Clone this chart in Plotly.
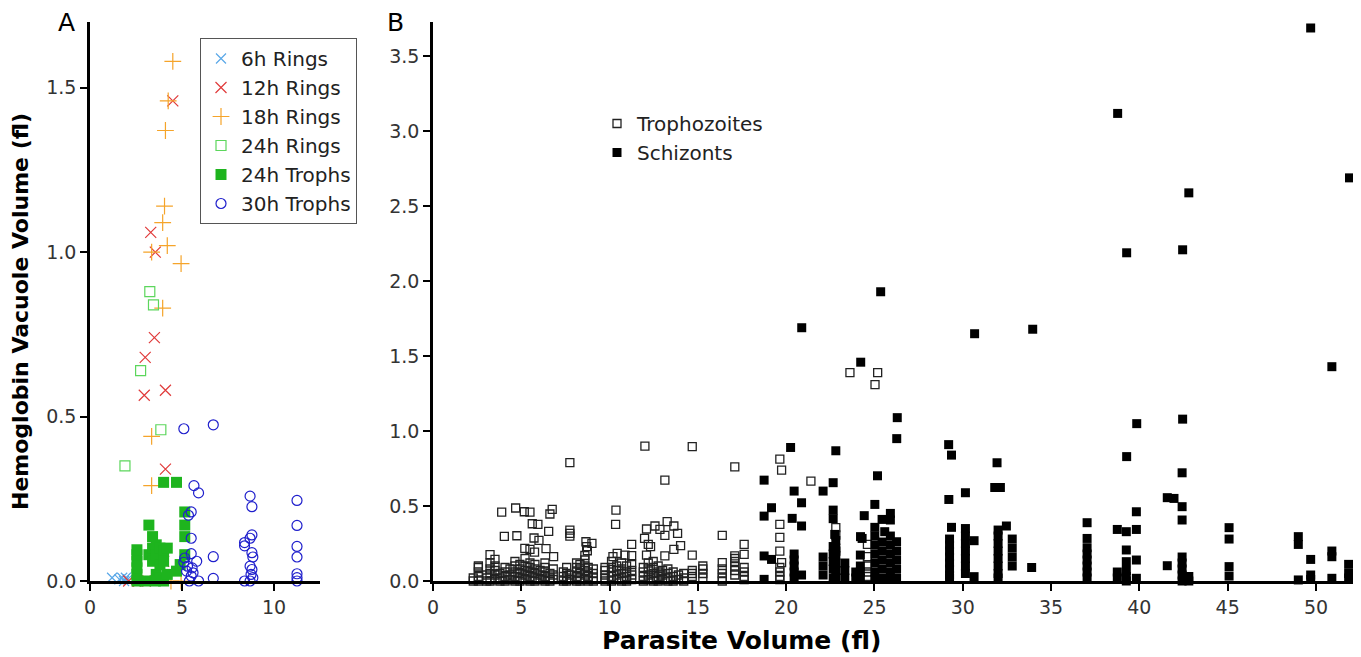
import plotly.graph_objects as go

# ---- panel A data (parasite volume fl, vacuole volume fl)
ring6_x = [1.2, 1.6, 1.75, 1.85, 1.95, 2.05]
ring6_y = [0.01, 0.005, 0.01, 0.0, 0.01, 0.005]

ring12_x = [4.5, 3.3, 3.55, 3.5, 3.0, 2.95, 4.1, 4.1, 2.1, 2.6, 3.0, 4.0]
ring12_y = [1.46, 1.06, 1.0, 0.74, 0.68, 0.565, 0.58, 0.34, 0.0, 0.0, 0.0, 0.06]

ring18_x = [4.5, 4.25, 4.1, 4.05, 3.95, 4.2, 3.35, 4.95, 3.95, 3.35, 3.35, 4.95, 4.4]
ring18_y = [1.58, 1.46, 1.37, 1.14, 1.09, 1.02, 1.0, 0.965, 0.83, 0.44, 0.29, 0.0, 0.0]

ring24_x = [3.25, 3.45, 2.75, 3.85, 1.9]
ring24_y = [0.88, 0.84, 0.64, 0.46, 0.35]

troph24_x = [2.55, 2.55, 2.55, 2.55, 2.55, 2.55, 3.2, 3.2, 3.4, 3.4, 3.4, 3.6, 3.6, 3.6,
             3.8, 3.8, 3.8, 4.0, 4.0, 4.0, 4.0, 4.2, 4.2, 4.7, 4.7, 4.9, 5.15, 5.15, 5.15,
             5.15, 3.0, 3.55]
troph24_y = [0.0, 0.02, 0.04, 0.06, 0.08, 0.095, 0.17, 0.08, 0.135, 0.1, 0.06, 0.11, 0.08,
             0.02, 0.1, 0.05, 0.01, 0.30, 0.09, 0.06, 0.0, 0.1, 0.02, 0.30, 0.03, 0.05, 0.21,
             0.17, 0.135, 0.08, 0.0, 0.0]

troph30_x = [5.1, 6.7, 5.65, 5.9, 5.35, 5.5, 5.5, 5.5, 5.1, 5.3, 5.55, 5.6, 5.5, 5.4, 5.9,
             6.7, 6.7, 5.15, 5.8, 5.25, 8.7, 8.8, 8.8, 8.7, 8.4, 8.4, 8.8, 8.85, 8.7, 8.8,
             8.75, 8.85, 8.4, 8.7, 11.25, 11.25, 11.25, 11.25, 11.25, 11.25, 11.25]
troph30_y = [0.463, 0.475, 0.29, 0.268, 0.2, 0.21, 0.13, 0.083, 0.057, 0.045, 0.04, 0.025,
             0.015, 0.0, 0.0, 0.074, 0.008, 0.07, 0.06, 0.03, 0.258, 0.226, 0.14, 0.13, 0.117,
             0.107, 0.086, 0.073, 0.045, 0.035, 0.02, 0.01, 0.0, 0.0, 0.245, 0.169, 0.105,
             0.073, 0.022, 0.01, 0.0]

# ---- panel B data
# trophozoites, scattered points
tro_x = [7.75, 12.0, 3.89, 4.68, 5.17, 5.49, 6.62, 6.75, 5.62, 5.94, 4.04, 4.75, 5.72, 6.0,
         6.55, 6.4, 6.83, 5.2, 5.49, 5.75, 3.23, 3.51, 2.57, 7.75, 7.75, 7.75, 8.66, 9.0,
         8.7, 8.74, 10.36, 10.34, 11.25, 10.19, 10.43, 10.87, 11.25, 12.09, 12.57, 11.98,
         12.19, 12.32, 12.09, 14.68, 13.13, 17.09, 19.64, 19.74, 21.4, 13.26, 12.85, 13.64,
         13.13, 13.85, 13.64, 14.02, 13.13, 14.68, 16.38, 16.38, 17.09, 17.62, 17.62, 19.64,
         19.64, 19.64, 19.74, 22.81, 22.81, 22.81, 24.6, 24.6, 23.61, 25.18, 25.03]
tro_y = [0.79, 0.90, 0.46, 0.487, 0.462, 0.46, 0.447, 0.478, 0.382, 0.378, 0.298, 0.302,
         0.287, 0.271, 0.331, 0.216, 0.162, 0.218, 0.211, 0.193, 0.176, 0.144, 0.10, 0.34,
         0.318, 0.30, 0.262, 0.251, 0.229, 0.202, 0.473, 0.378, 0.244, 0.162, 0.184, 0.173,
         0.169, 0.347, 0.367, 0.284, 0.244, 0.229, 0.173, 0.896, 0.673, 0.762, 0.813, 0.74,
         0.667, 0.396, 0.344, 0.367, 0.304, 0.318, 0.211, 0.236, 0.167, 0.173, 0.304, 0.122,
         0.167, 0.244, 0.178, 0.378, 0.291, 0.2, 0.122, 0.356, 0.307, 0.2, 0.244, 0.162,
         1.39, 1.39, 1.31]

# trophozoites, dense columns near zero
tro_col_x = [2.28, 2.57, 3.04, 3.23, 3.51, 3.79, 4.08, 4.36, 4.64, 4.92, 5.21, 5.49, 5.77,
             6.06, 6.34, 6.62, 6.81, 7.38, 7.57, 7.75, 8.13, 8.32, 8.6, 8.79, 9.08, 9.74,
             10.11, 10.4, 10.68, 10.96, 11.25, 11.91, 12.19, 12.47, 12.75, 13.0, 13.3, 13.6,
             13.9, 14.2, 14.68, 15.28, 16.38, 17.09, 17.62, 19.64, 24.6]
tro_col_y = [[0.0, 0.02], [0.0, 0.03, 0.06, 0.09], [0.0, 0.02, 0.04], [0.0, 0.05, 0.08, 0.12],
             [0.01, 0.04, 0.07, 0.10], [0.0, 0.02, 0.05], [0.0, 0.03, 0.06, 0.09],
             [0.01, 0.04, 0.08], [0.0, 0.03, 0.06, 0.10, 0.13], [0.0, 0.02, 0.05, 0.08, 0.11],
             [0.01, 0.04, 0.07, 0.10, 0.15], [0.0, 0.03, 0.06, 0.09, 0.12],
             [0.0, 0.02, 0.05, 0.08, 0.11], [0.01, 0.04, 0.07], [0.0, 0.03, 0.06, 0.09, 0.12],
             [0.0, 0.02, 0.05], [0.01, 0.04, 0.08], [0.0, 0.03, 0.06], [0.0, 0.02, 0.05, 0.09],
             [0.01, 0.04], [0.0, 0.03, 0.06, 0.09, 0.12], [0.0, 0.02, 0.05, 0.08, 0.11],
             [0.01, 0.04, 0.07, 0.10, 0.14, 0.17], [0.0, 0.03, 0.06, 0.09],
             [0.0, 0.02, 0.05, 0.08], [0.0, 0.02, 0.04, 0.07, 0.09],
             [0.0, 0.03, 0.06, 0.09, 0.13], [0.01, 0.04, 0.07, 0.10],
             [0.0, 0.02, 0.05, 0.08, 0.12], [0.0, 0.03, 0.06, 0.10], [0.01, 0.04, 0.07, 0.11],
             [0.0, 0.03, 0.06, 0.09], [0.01, 0.04, 0.08, 0.12], [0.0, 0.02, 0.05, 0.09, 0.13],
             [0.0, 0.03, 0.06, 0.10], [0.01, 0.04, 0.07], [0.0, 0.02, 0.05, 0.08],
             [0.0, 0.03, 0.06], [0.01, 0.04], [0.0, 0.02, 0.05], [0.03, 0.05, 0.07],
             [0.02, 0.05, 0.08, 0.10], [0.0, 0.02, 0.05, 0.08], [0.04, 0.07, 0.10, 0.13, 0.15],
             [0.01, 0.03, 0.06, 0.09], [0.01, 0.03, 0.06, 0.09], [0.03, 0.06, 0.10]]

# schizonts, scattered points
sch_x = [49.7, 38.77, 51.9, 42.8, 39.28, 42.45, 50.9, 39.85, 39.28, 42.45, 33.96, 25.35,
         20.88, 24.22, 30.67, 26.29, 26.26, 29.2, 20.25, 22.81, 25.17, 18.75, 20.45, 22.66,
         22.09, 20.87, 19.17, 18.75, 20.34, 20.87, 22.66, 22.66, 22.75, 25.02, 24.42, 25.02,
         24.21, 24.3, 24.2, 18.75, 19.17, 18.75, 29.36, 31.94, 31.81, 32.13, 29.21, 30.15,
         25.43, 25.9, 25.9, 25.58, 26.25, 29.36, 30.64, 30.64, 32.47, 33.9, 37.04, 37.04,
         37.04, 42.42, 41.58, 41.96, 42.42, 42.42, 39.83, 38.75, 39.26, 39.83, 39.26, 39.26,
         39.83, 41.58, 45.08, 45.08, 45.08, 45.08, 49.0, 49.0, 49.0, 49.7, 50.9, 50.9, 50.9,
         51.85]
sch_y = [3.69, 3.12, 2.69, 2.59, 2.19, 2.21, 1.43, 1.05, 0.83, 1.08, 1.68, 1.93, 1.69, 1.46,
         1.65, 1.09, 0.95, 0.91, 0.891, 0.869, 0.702, 0.673, 0.6, 0.656, 0.6, 0.522, 0.489,
         0.433, 0.418, 0.367, 0.473, 0.416, 0.311, 0.511, 0.436, 0.358, 0.296, 0.284, 0.173,
         0.167, 0.144, 0.011, 0.84, 0.789, 0.624, 0.624, 0.544, 0.589, 0.411, 0.451, 0.407,
         0.329, 0.262, 0.358, 0.269, 0.029, 0.367, 0.09, 0.389, 0.284, 0.222, 0.722, 0.556,
         0.551, 0.496, 0.407, 0.462, 0.344, 0.329, 0.344, 0.207, 0.129, 0.14, 0.102, 0.356,
         0.28, 0.096, 0.033, 0.296, 0.244, 0.007, 0.144, 0.2, 0.162, 0.018, 0.111]

# schizonts, dense columns near zero
sch_col_x = [20.45, 20.87, 22.09, 22.81, 22.66, 23.32, 23.94, 24.2, 25.02, 25.43, 25.9,
             26.25, 29.25, 30.15, 32.0, 32.8, 37.04, 38.75, 39.26, 39.83, 42.42, 42.8, 49.7,
             51.85]
sch_col_y = [[0.02, 0.06, 0.10, 0.14, 0.18], [0.04], [0.04, 0.10, 0.16],
             [0.02, 0.07, 0.12, 0.17, 0.22, 0.27], [0.02, 0.08, 0.13, 0.18, 0.23],
             [0.02, 0.07, 0.12], [0.02, 0.06], [0.02, 0.06, 0.1],
             [0.01, 0.06, 0.12, 0.18, 0.24, 0.3], [0.02, 0.08, 0.14, 0.2, 0.26],
             [0.01, 0.06, 0.12, 0.18, 0.24, 0.3], [0.02, 0.08, 0.14, 0.2],
             [0.02, 0.04, 0.08, 0.12, 0.16, 0.2, 0.24, 0.28],
             [0.05, 0.1, 0.15, 0.2, 0.25, 0.3, 0.35],
             [0.02, 0.05, 0.1, 0.15, 0.2, 0.25, 0.3, 0.34], [0.1, 0.16, 0.22, 0.28],
             [0.02, 0.06, 0.1, 0.14, 0.18], [0.02, 0.06], [0.0, 0.03, 0.07], [0.018],
             [0.0, 0.04, 0.08, 0.12, 0.16], [0.0, 0.03], [0.01, 0.04], [0.02, 0.05]]

for cx, cy in zip(tro_col_x, tro_col_y):
    tro_x += [cx] * len(cy)
    tro_y += cy
for cx, cy in zip(sch_col_x, sch_col_y):
    sch_x += [cx] * len(cy)
    sch_y += cy

FONT = "DejaVu Sans"
OFF = 8  # page body margin
W, H = 1361 - OFF, 657 - OFF

def px(x):
    return (x - OFF) / W

def py(y):
    return 1 - (y - OFF) / H

fig = go.Figure()

def add_a(x, y, name, symbol, color, size, lw=1.2):
    fig.add_trace(go.Scatter(x=x, y=y, mode="markers", name=name, xaxis="x", yaxis="y",
                             cliponaxis=False, legend="legend",
                             marker=dict(symbol=symbol, size=size, color=color,
                                         line=dict(color=color, width=lw))))

add_a(ring6_x, ring6_y, "6h Rings", "x-thin", "#5aa8e8", 10)
add_a(ring12_x, ring12_y, "12h Rings", "x-thin", "#e03a3a", 11)
add_a(ring18_x, ring18_y, "18h Rings", "cross-thin", "#f5a42a", 12)
add_a(ring24_x, ring24_y, "24h Rings", "square-open", "#5cd65c", 10)
add_a(troph24_x, troph24_y, "24h Trophs", "square", "#1eb41e", 11, 0)
add_a(troph30_x, troph30_y, "30h Trophs", "circle-open", "#1f1fcc", 10)

fig.add_trace(go.Scatter(x=tro_x, y=tro_y, mode="markers", name="Trophozoites",
                         xaxis="x2", yaxis="y2", cliponaxis=False, legend="legend2",
                         marker=dict(symbol="square-open", size=8, color="#222",
                                     line=dict(color="#222", width=1.3))))
fig.add_trace(go.Scatter(x=sch_x, y=sch_y, mode="markers", name="Schizonts",
                         xaxis="x2", yaxis="y2", cliponaxis=False, legend="legend2",
                         marker=dict(symbol="square", size=9, color="black",
                                     line=dict(width=0))))

ax = dict(showline=True, linecolor="black", linewidth=2.5, ticks="outside", ticklen=7,
          tickwidth=2, tickcolor="black", showgrid=False, zeroline=False, automargin=False,
          tickfont=dict(family=FONT, size=19, color="#333"))

y_dom = [py(581), py(22)]
fig.update_layout(
    width=W, height=H, margin=dict(l=0, r=0, t=0, b=0, autoexpand=False),
    plot_bgcolor="white", paper_bgcolor="white",
    font=dict(family=FONT, color="#222"),
    xaxis=dict(ax, domain=[px(90), px(320)], range=[0, 12.5], tickvals=[0, 5, 10]),
    yaxis=dict(ax, domain=y_dom, range=[0, 1.7], tickvals=[0, 0.5, 1, 1.5], tickformat=".1f"),
    xaxis2=dict(ax, domain=[px(433), 1.0], range=[0, 52.55], dtick=5, anchor="y2"),
    yaxis2=dict(ax, domain=y_dom, range=[0, 3.73], dtick=0.5, tickformat=".1f", anchor="x2"),
    legend=dict(x=px(200), y=py(38), xanchor="left", yanchor="top",
                bordercolor="#555", borderwidth=1, bgcolor="white",
                font=dict(family=FONT, size=20, color="#222"), itemwidth=30),
    legend2=dict(x=px(597), y=py(104), xanchor="left", yanchor="top",
                 bgcolor="rgba(0,0,0,0)", font=dict(family=FONT, size=20, color="#222")),
    annotations=[
        dict(text="<b>Hemoglobin Vacuole Volume (fl)</b>", textangle=-90, x=px(21),
             y=py(312), xref="paper", yref="paper", showarrow=False, xanchor="center",
             yanchor="middle", font=dict(family=FONT, size=22, color="black")),
        dict(text="<b>Parasite Volume (fl)</b>", x=px(741), y=py(640), xref="paper",
             yref="paper", showarrow=False, xanchor="center", yanchor="middle",
             font=dict(family=FONT, size=25, color="black")),
        dict(text="A", x=px(66), y=py(23), xref="paper", yref="paper", showarrow=False,
             xanchor="center", yanchor="middle", font=dict(family=FONT, size=25, color="black")),
        dict(text="B", x=px(396), y=py(23), xref="paper", yref="paper", showarrow=False,
             xanchor="center", yanchor="middle", font=dict(family=FONT, size=25, color="black")),
    ],
)

fig.write_html("out.html")
